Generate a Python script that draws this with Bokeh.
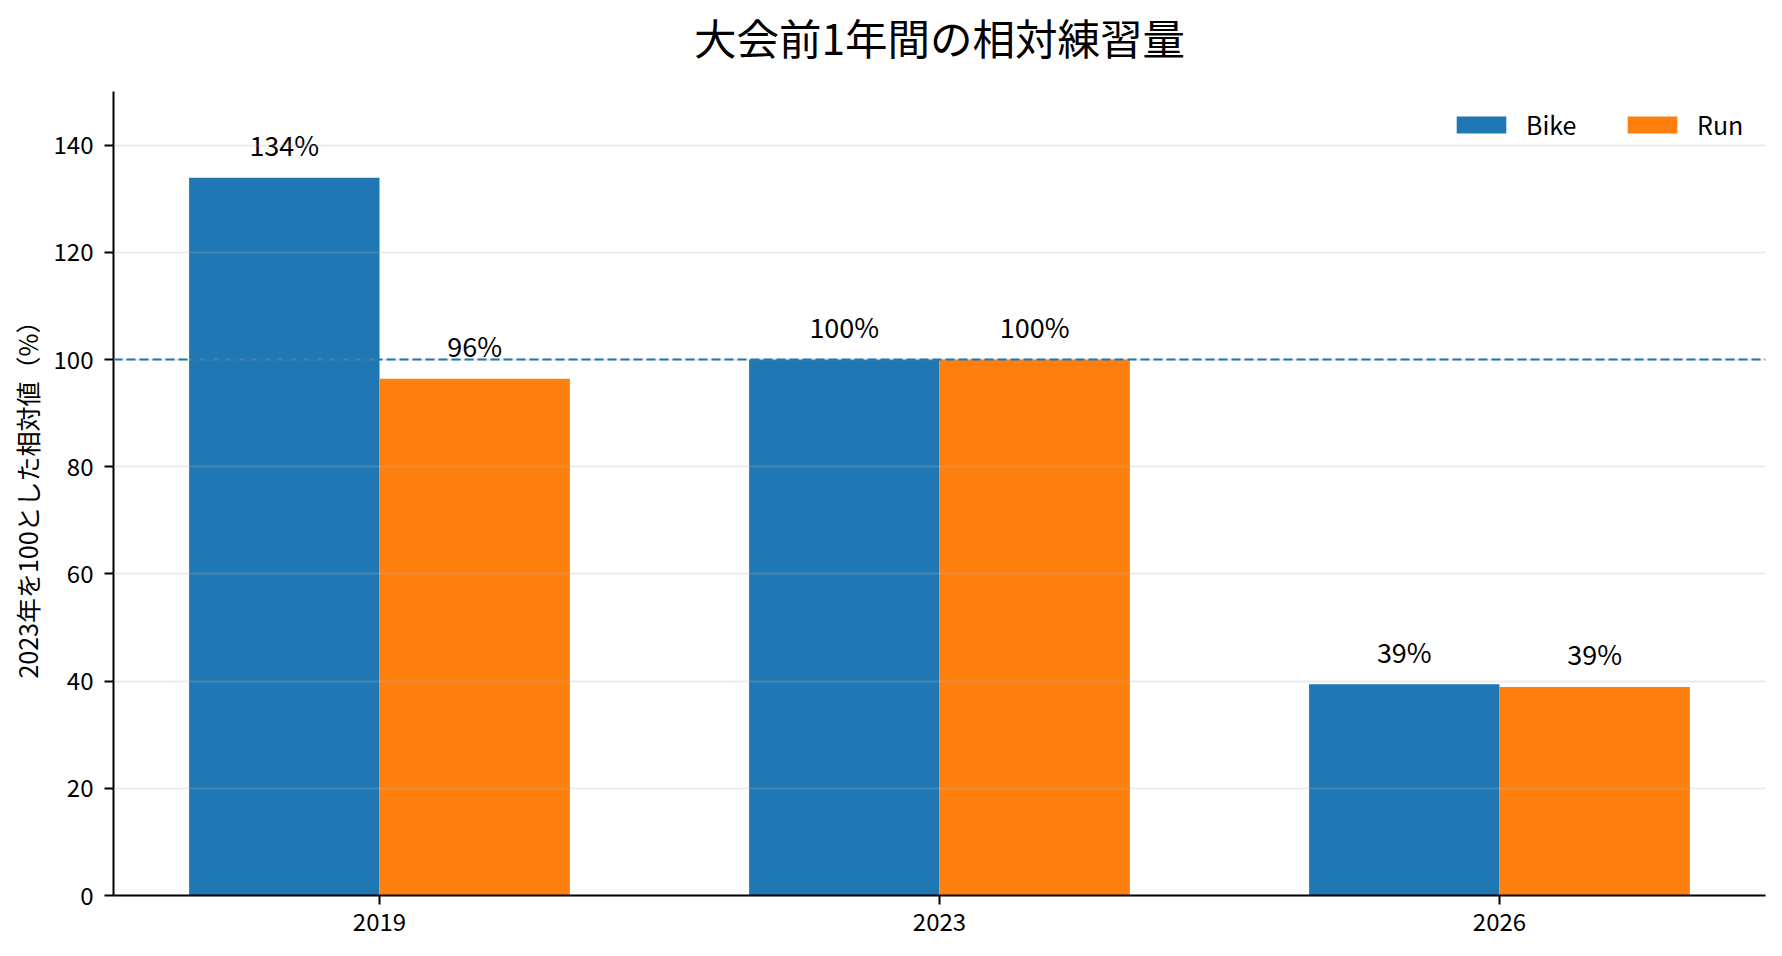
import numpy as np
from bokeh.plotting import figure
from bokeh.layouts import column
from bokeh.models import ColumnDataSource, FixedTicker, Span, Legend, LegendItem, Range1d
from bokeh.core.properties import value
from bokeh.embed import file_html
from bokeh.resources import INLINE

# ---- data ----
years = ["2019", "2023", "2026"]
bike = [133.9, 100.0, 39.4]
run = [96.4, 100.0, 38.9]
series_names = ["Bike", "Run"]
y_ticks = [0, 20, 40, 60, 80, 100, 120, 140]
baseline_value = 100
title_text = "大会前1年間の相対練習量"
y_label = "2023年を100とした相対値（%）"

FONT = "Noto Sans CJK JP"
BLUE = "#1f77b4"
ORANGE = "#ff7f0e"
bar_w = 0.34

W = 1766
TH = 91            # height of the title strip
H = 940 - TH       # height of the chart
BL, BR, BB = 113, 1, 45

# ---- title strip (its frame is aligned with the chart frame by the column) ----
tfig = figure(width=W, height=TH, output_backend="svg", toolbar_location=None,
              x_range=Range1d(0, 1), y_range=Range1d(0, TH),
              min_border=0, min_border_left=0, min_border_right=0,
              min_border_top=0, min_border_bottom=0)
tfig.axis.visible = False
tfig.grid.visible = False
tfig.outline_line_color = None
tfig.text(x=[0.5], y=[TH - 36], text=[title_text], text_align="center",
          text_baseline="middle", text_font=value(FONT), text_font_size="42.5px",
          text_color="black")

# ---- chart ----
x = np.arange(len(years))

p = figure(width=W, height=H, output_backend="svg", toolbar_location=None,
           x_range=Range1d(-0.475, 2.475), y_range=Range1d(0, 150),
           min_border_left=BL, min_border_right=BR, min_border_top=0, min_border_bottom=BB)

src_b = ColumnDataSource(dict(x=x - bar_w / 2, top=bike,
                              lbl=[f"{v:.0f}%" for v in bike]))
src_r = ColumnDataSource(dict(x=x + bar_w / 2, top=run,
                              lbl=[f"{v:.0f}%" for v in run]))

rb = p.vbar(x="x", top="top", width=bar_w, source=src_b, fill_color=BLUE, line_color=None)
rr = p.vbar(x="x", top="top", width=bar_w, source=src_r, fill_color=ORANGE, line_color=None)

for src in (src_b, src_r):
    p.text(x="x", y="top", text="lbl", source=src, text_align="center",
           text_baseline="alphabetic", y_offset=-33, text_font=value(FONT),
           text_font_size="27px", text_color="black")

span = Span(location=baseline_value, dimension="width", line_color=BLUE,
            line_dash="9 4", line_width=2)
span.level = "overlay"
p.add_layout(span)

# grid
p.xgrid.grid_line_color = None
p.ygrid.grid_line_color = "#b0b0b0"
p.ygrid.grid_line_alpha = 0.25
p.ygrid.grid_line_width = 2
p.ygrid.level = "guide"
p.ygrid.ticker = FixedTicker(ticks=y_ticks)

# axes
p.xaxis.ticker = FixedTicker(ticks=list(x))
p.xaxis.major_label_overrides = {int(i): yr for i, yr in zip(x, years)}
p.yaxis.ticker = FixedTicker(ticks=y_ticks)
p.yaxis.axis_label = y_label
for ax in (p.xaxis[0], p.yaxis[0]):
    ax.axis_line_color = "black"
    ax.axis_line_width = 2
    ax.major_tick_line_color = "black"
    ax.major_tick_line_width = 2
    ax.major_tick_out = 9
    ax.major_tick_in = 0
    ax.minor_tick_line_color = None
    ax.major_label_text_font = FONT
    ax.major_label_text_font_size = "24px"
    ax.major_label_text_color = "black"
    ax.axis_label_text_font = FONT
    ax.axis_label_text_font_size = "25px"
    ax.axis_label_text_font_style = "normal"
    ax.axis_label_text_color = "black"
p.yaxis.major_label_standoff = 11
p.xaxis.major_label_standoff = 8
p.yaxis.axis_label_standoff = 6

p.outline_line_color = None

legend = Legend(items=[LegendItem(label=series_names[0], renderers=[rb]),
                       LegendItem(label=series_names[1], renderers=[rr])],
                location="top_right", orientation="horizontal")
legend.border_line_color = None
legend.background_fill_alpha = 0
legend.label_text_font = FONT
legend.label_text_font_size = "25px"
legend.label_text_color = "black"
legend.glyph_width = 62
legend.glyph_height = 21
legend.label_standoff = 14
legend.label_width = 53
legend.spacing = 42
legend.margin = 15
legend.padding = 22
p.add_layout(legend)

layout = column(tfig, p, spacing=0)
open("out.html", "w").write(file_html(layout, INLINE))
